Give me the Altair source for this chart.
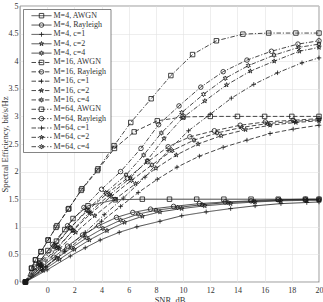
import altair as alt
import pandas as pd

FONT = "Liberation Serif"

# ---- M = 4 (solid) ----
M4_AWGN_X = [-1.6, -0.93, -0.54, 0.05, 0.68, 1.3, 1.9, 3.0, 5.0, 7.0, 9.0, 11.0, 13.0, 15.0, 17.0, 19.0, 20.0]
M4_AWGN_Y = [0, 0.27, 0.38, 0.57, 0.74, 0.95, 1.15, 1.38, 1.49, 1.5, 1.5, 1.5, 1.5, 1.5, 1.5, 1.5, 1.5]
M4_RAY_X = [-1.6, -0.5, 0.5, 1.5, 2.6, 3.8, 5.1, 6.3, 7.6, 9.3, 11.2, 13.1, 15.0, 17.0, 19.0, 20.0]
M4_RAY_Y = [0, 0.25, 0.45, 0.65, 0.85, 1.02, 1.17, 1.26, 1.32, 1.37, 1.42, 1.45, 1.47, 1.49, 1.5, 1.5]
M4_C1_X = [-1.6, 0.0, 1.7, 2.8, 3.9, 5.3, 6.6, 8.3, 9.9, 11.7, 13.5, 15.3, 17.2, 19.1, 20.0]
M4_C1_Y = [0, 0.22, 0.47, 0.62, 0.76, 0.9, 1.0, 1.1, 1.2, 1.27, 1.33, 1.38, 1.42, 1.44, 1.45]
M4_C2_X = [-1.6, -0.3, 0.9, 2.0, 3.1, 4.4, 5.7, 7.0, 8.3, 9.9, 11.6, 13.5, 15.3, 17.2, 19.1, 20.0]
M4_C2_Y = [0, 0.21, 0.41, 0.59, 0.76, 0.93, 1.08, 1.19, 1.27, 1.33, 1.38, 1.42, 1.45, 1.47, 1.48, 1.48]
M4_C4_X = [-1.6, -0.4, 0.7, 1.8, 2.9, 4.1, 5.4, 6.7, 8.0, 9.6, 11.4, 13.3, 15.2, 17.1, 19.0, 20.0]
M4_C4_Y = [0, 0.23, 0.43, 0.62, 0.8, 0.97, 1.12, 1.23, 1.3, 1.35, 1.4, 1.44, 1.46, 1.48, 1.49, 1.49]

# ---- M = 16 (dashed) ----
M16_AWGN_X = [-1.6, -1.15, -0.86, -0.45, 0.07, 0.65, 1.55, 2.5, 3.7, 4.95, 6.4, 8.1, 10.0, 12.0, 14.0, 16.0, 18.0, 20.0]
M16_AWGN_Y = [0, 0.25, 0.4, 0.55, 0.76, 0.99, 1.32, 1.66, 2.02, 2.42, 2.72, 2.92, 2.99, 3.0, 3.0, 3.0, 3.0, 3.0]
M16_RAY_X = [-1.6, -0.6, 0.5, 1.7, 3.0, 4.4, 5.9, 7.4, 8.9, 10.5, 12.3, 14.2, 16.05, 18.1, 20.0]
M16_RAY_Y = [0, 0.33, 0.65, 0.98, 1.3, 1.6, 1.88, 2.18, 2.45, 2.63, 2.74, 2.84, 2.9, 2.93, 2.96]
M16_C1_X = [-1.6, -0.1, 1.3, 2.7, 4.0, 5.4, 6.7, 8.1, 9.55, 11.2, 12.95, 14.7, 16.4, 18.1, 20.0]
M16_C1_Y = [0, 0.27, 0.55, 0.83, 1.1, 1.37, 1.62, 1.86, 2.08, 2.28, 2.44, 2.57, 2.69, 2.77, 2.84]
M16_C2_X = [-1.6, -0.4, 0.9, 2.1, 3.5, 5.0, 6.5, 8.0, 9.5, 11.1, 12.8, 14.6, 16.4, 18.3, 20.0]
M16_C2_Y = [0, 0.28, 0.6, 0.9, 1.2, 1.5, 1.78, 2.06, 2.3, 2.5, 2.65, 2.76, 2.84, 2.89, 2.92]
M16_C4_X = [-1.6, -0.5, 0.7, 1.9, 3.2, 4.7, 6.2, 7.7, 9.2, 10.8, 12.5, 14.3, 16.2, 18.2, 20.0]
M16_C4_Y = [0, 0.3, 0.62, 0.93, 1.24, 1.55, 1.84, 2.12, 2.38, 2.57, 2.7, 2.8, 2.87, 2.91, 2.94]

# ---- M = 64 (dash-dot) ----
M64_AWGN_X = [-1.6, -1.15, -0.86, -0.45, 0.07, 0.72, 1.6, 2.56, 3.74, 4.92, 6.15, 7.65, 9.1, 10.7, 12.45, 14.4, 16.3, 18.3, 20.0]
M64_AWGN_Y = [0, 0.25, 0.4, 0.55, 0.76, 1.02, 1.33, 1.69, 2.05, 2.47, 2.89, 3.32, 3.74, 4.12, 4.37, 4.49, 4.51, 4.51, 4.51]
M64_RAY_X = [-1.6, -0.6, 0.4, 1.5, 2.7, 4.0, 5.4, 6.9, 8.2, 9.7, 11.3, 12.95, 14.7, 16.5, 18.45, 20.0]
M64_RAY_Y = [0, 0.35, 0.68, 1.02, 1.35, 1.68, 2.0, 2.42, 2.85, 3.19, 3.53, 3.81, 4.02, 4.18, 4.31, 4.37]
M64_C1_X = [-1.6, -0.1, 1.3, 2.8, 4.2, 5.6, 7.2, 8.9, 10.4, 12.0, 13.55, 15.2, 16.95, 18.75, 20.0]
M64_C1_Y = [0, 0.28, 0.58, 0.9, 1.22, 1.52, 1.9, 2.38, 2.74, 3.04, 3.33, 3.58, 3.79, 3.97, 4.06]
M64_C2_X = [-1.6, -0.4, 0.8, 1.9, 3.1, 4.6, 6.1, 7.35, 8.6, 10.0, 11.6, 13.2, 14.95, 16.7, 18.55, 20.0]
M64_C2_Y = [0, 0.3, 0.62, 0.94, 1.26, 1.58, 1.88, 2.2, 2.6, 2.98, 3.28, 3.57, 3.82, 4.0, 4.18, 4.25]
M64_C4_X = [-1.6, -0.5, 0.6, 1.7, 2.9, 4.3, 5.8, 7.1, 8.4, 9.9, 11.5, 13.1, 14.8, 16.7, 18.5, 20.0]
M64_C4_Y = [0, 0.32, 0.65, 0.98, 1.3, 1.62, 1.94, 2.3, 2.7, 3.07, 3.4, 3.69, 3.92, 4.11, 4.25, 4.31]

KINDS = ["AWGN", "Rayleigh", "c=1", "c=2", "c=4"]
STYLES = ["solid", "dashed", "dashdot"]
X_TICKS = [0, 2, 4, 6, 8, 10, 12, 14, 16, 18, 20]
Y_TICKS = [0, 0.5, 1, 1.5, 2, 2.5, 3, 3.5, 4, 4.5, 5]

curves = [
    ("M=4, AWGN", "solid", "AWGN", M4_AWGN_X, M4_AWGN_Y),
    ("M=4, Rayleigh", "solid", "Rayleigh", M4_RAY_X, M4_RAY_Y),
    ("M=4, c=1", "solid", "c=1", M4_C1_X, M4_C1_Y),
    ("M=4, c=2", "solid", "c=2", M4_C2_X, M4_C2_Y),
    ("M=4, c=4", "solid", "c=4", M4_C4_X, M4_C4_Y),
    ("M=16, AWGN", "dashed", "AWGN", M16_AWGN_X, M16_AWGN_Y),
    ("M=16, Rayleigh", "dashed", "Rayleigh", M16_RAY_X, M16_RAY_Y),
    ("M=16, c=1", "dashed", "c=1", M16_C1_X, M16_C1_Y),
    ("M=16, c=2", "dashed", "c=2", M16_C2_X, M16_C2_Y),
    ("M=16, c=4", "dashed", "c=4", M16_C4_X, M16_C4_Y),
    ("M=64, AWGN", "dashdot", "AWGN", M64_AWGN_X, M64_AWGN_Y),
    ("M=64, Rayleigh", "dashdot", "Rayleigh", M64_RAY_X, M64_RAY_Y),
    ("M=64, c=1", "dashdot", "c=1", M64_C1_X, M64_C1_Y),
    ("M=64, c=2", "dashdot", "c=2", M64_C2_X, M64_C2_Y),
    ("M=64, c=4", "dashdot", "c=4", M64_C4_X, M64_C4_Y),
]

rows = []
for label, style, kind, xs, ys in curves:
    for i, (xv, yv) in enumerate(zip(xs, ys)):
        rows.append({"series": label, "style": style, "kind": kind, "x": xv, "y": yv, "i": i})
df = pd.DataFrame(rows)
leg = pd.DataFrame([{"label": c[0], "style": c[1], "kind": c[2]} for c in curves])
labels = [c[0] for c in curves]

STAR5 = "M0,-1L0.2245,-0.309L0.951,-0.309L0.363,0.118L0.588,0.809L0,0.382L-0.588,0.809L-0.363,0.118L-0.951,-0.309L-0.2245,-0.309Z"
HEX6 = "M0,-1L0.25,-0.433L0.866,-0.5L0.5,0L0.866,0.5L0.25,0.433L0,1L-0.25,0.433L-0.866,0.5L-0.5,0L-0.866,-0.5L-0.25,-0.433Z"
PLUS = "M-1,0L1,0M0,-1L0,1"
INK = "#1a1a1a"

dash_scale = alt.Scale(domain=STYLES, range=[[1, 0], [4.5, 2.2], [4.5, 1.8, 1.2, 1.8]])
shape_scale = alt.Scale(domain=KINDS, range=["square", "circle", PLUS, STAR5, HEX6])
fop_scale = alt.Scale(domain=KINDS, range=[0, 0, 0, 1, 1])
size_scale = alt.Scale(domain=KINDS, range=[20, 22, 32, 34, 34])

x_axis = alt.Axis(values=X_TICKS, format="d", title="SNR, dB", labelOverlap=False,
                  labelFlush=False, labelPadding=4, titlePadding=1)
y_axis = alt.Axis(values=Y_TICKS, format="~g", title="Spectral Efficiency, bit/s/Hz",
                  labelOverlap=False, labelFlush=False, labelPadding=2,
                  titleX=-11, titleY=138)


def xe():
    return alt.X("x:Q", scale=alt.Scale(domain=[-2, 20], nice=False), axis=x_axis)


def ye():
    return alt.Y("y:Q", scale=alt.Scale(domain=[0, 5], nice=False), axis=y_axis)


lines = alt.Chart(df).mark_line(color=INK, strokeWidth=0.8).encode(
    x=xe(), y=ye(), detail="series:N", order="i:Q",
    strokeDash=alt.StrokeDash("style:N", scale=dash_scale, legend=None),
)
points = alt.Chart(df).mark_point(filled=True, fill=INK, stroke=INK, strokeWidth=0.8, opacity=1).encode(
    x=xe(), y=ye(),
    shape=alt.Shape("kind:N", scale=shape_scale, legend=None),
    fillOpacity=alt.FillOpacity("kind:N", scale=fop_scale, legend=None),
    size=alt.Size("kind:N", scale=size_scale, legend=None),
)
main = alt.layer(lines, points)

box_df = pd.DataFrame({"k": [0]})
leg_box = alt.Chart(box_df).mark_rect(fill="white", stroke="#333333", strokeWidth=0.6).encode(
    x=alt.value(3.5), x2=alt.value(91), y=alt.value(3.5), y2=alt.value(146.5)
)
leg_y = alt.Y("label:N", sort=labels,
              scale=alt.Scale(type="point", domain=labels, range=[9.7, 140.7], padding=0),
              axis=None)
leg_rule = alt.Chart(leg).mark_rule(color=INK, strokeWidth=0.8).encode(
    x=alt.value(11.5), x2=alt.value(31.5), y=leg_y,
    strokeDash=alt.StrokeDash("style:N", scale=dash_scale, legend=None),
)
leg_pt = alt.Chart(leg).mark_point(filled=True, fill=INK, stroke=INK, strokeWidth=0.8, opacity=1).encode(
    x=alt.value(21.5), y=leg_y,
    shape=alt.Shape("kind:N", scale=shape_scale, legend=None),
    fillOpacity=alt.FillOpacity("kind:N", scale=fop_scale, legend=None),
    size=alt.Size("kind:N", scale=size_scale, legend=None),
)
leg_txt = alt.Chart(leg).mark_text(align="left", baseline="middle", font=FONT, fontSize=8, color="#333333").encode(
    x=alt.value(33.5), y=leg_y, text="label:N"
)
legend = alt.layer(leg_rule, leg_pt, leg_txt)

chart = alt.layer(main, leg_box, legend).resolve_scale(
    y="independent"
).properties(
    width=299, height=276,
    autosize=alt.AutoSizeParams(type="none"),
    padding={"left": 20, "top": 6, "right": 4, "bottom": 20},
).configure_view(
    stroke="#333333", strokeWidth=0.6
).configure_axis(
    grid=True, gridColor="#e3e3e3", gridWidth=0.6,
    domain=False, ticks=False,
    labelFont=FONT, labelFontSize=8, labelColor="#333333",
    titleFont=FONT, titleFontSize=8.5, titleFontWeight="normal", titleColor="#333333",
)

chart.save("out.html", embed_options={"renderer": "svg", "actions": False})
